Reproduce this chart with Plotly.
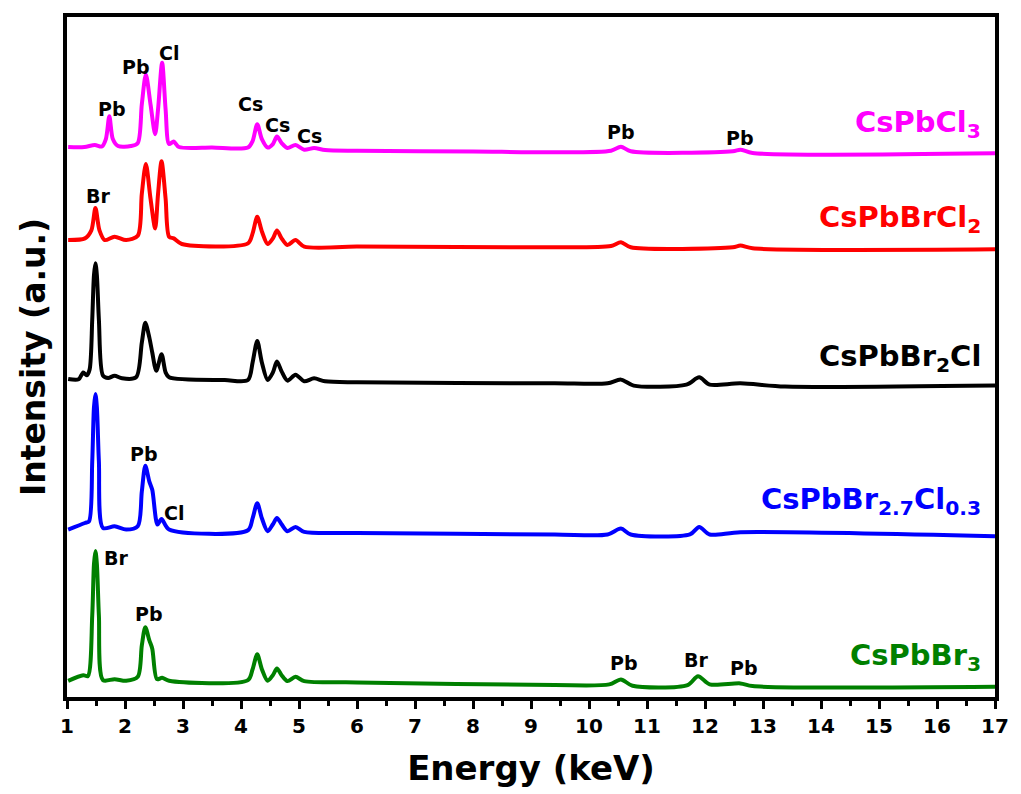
import plotly.graph_objects as go

# ---------------- data (energy in keV, stacked intensity in a.u.) ----------------
cl3_x = [1.02, 1.30, 1.48, 1.60, 1.67, 1.73, 1.79, 1.88, 2.10, 2.22, 2.29, 2.36, 2.44, 2.52, 2.57, 2.64, 2.70,
         2.76, 2.84, 2.93, 3.50, 4.12, 4.20, 4.28, 4.36, 4.46, 4.55, 4.62, 4.70, 4.80, 4.94, 5.09, 5.26, 5.45,
         6.00, 8.00, 9.41, 10.38, 10.55, 10.72, 12.48, 12.61, 12.82, 17.0]
cl3_y = [554, 554, 556, 554.5, 562, 585, 562, 555, 555, 558, 597, 627, 597, 567, 592, 639, 592,
         557, 559.5, 554, 553.5, 553.5, 560, 577, 562, 553.5, 557, 564.5, 558, 553, 556, 551.3, 553, 551,
         550.3, 549.5, 548.7, 550.3, 554.3, 549.7, 549.7, 551.3, 548, 547.7]

brcl2_x = [1.02, 1.31, 1.42, 1.49, 1.56, 1.65, 1.82, 2.02, 2.22, 2.29, 2.36, 2.44, 2.52, 2.57, 2.63, 2.70, 2.76,
           2.84, 2.98, 4.12, 4.20, 4.28, 4.36, 4.46, 4.55, 4.62, 4.70, 4.80, 4.94, 5.09, 6.00, 9.41, 10.38,
           10.55, 10.72, 12.48, 12.61, 12.82, 17.0]
brcl2_y = [460.3, 462, 470, 492.7, 470, 460.3, 463.7, 460.3, 464.7, 507, 537, 502, 472, 507, 539.7, 502, 463.7,
           462, 456.3, 457, 467, 483.7, 469, 456.3, 462, 470, 462, 455.3, 460.3, 453.7, 453.7, 453, 454.3,
           458, 453, 453, 454.7, 452, 451]

br2cl_x = [1.02, 1.20, 1.28, 1.34, 1.39, 1.435, 1.465, 1.49, 1.515, 1.55, 1.62, 1.71, 1.82, 1.95, 2.19, 2.29,
           2.35, 2.42, 2.47, 2.54, 2.63, 2.70, 2.76, 3.72, 4.12, 4.20, 4.28, 4.36, 4.46, 4.55, 4.62, 4.70, 4.80,
           4.94, 5.09, 5.26, 5.45, 6.00, 9.41, 10.32, 10.55, 10.77, 11.68, 11.90, 12.08, 12.61, 13.38, 17.0]
br2cl_y = [320.3, 320, 327, 324, 330, 380, 425, 437, 425, 380, 323.7, 321.3, 323.7, 321, 322, 357,
           377, 362, 347, 328.7, 345.3, 327, 322, 319.3, 319.3, 337, 358.7, 337, 319.3, 327, 338, 328, 318.7,
           324.7, 318, 321, 318, 317, 316, 316, 319.7, 313.7, 314.7, 322, 314.7, 316, 312.7, 313.7]

br27_x = [1.02, 1.31, 1.38, 1.435, 1.465, 1.49, 1.515, 1.55, 1.62, 1.82, 2.02, 2.22, 2.29, 2.35, 2.42, 2.47,
          2.56, 2.63, 2.76, 4.12, 4.20, 4.28, 4.36, 4.46, 4.55, 4.62, 4.70, 4.80, 4.94, 5.09, 6.00, 9.41, 10.32,
          10.55, 10.72, 11.74, 11.90, 12.08, 12.61, 17.0]
br27_y = [168.7, 175.3, 177, 237, 292, 305.3, 292, 237, 170.3, 172, 168.7, 172, 207, 233, 217, 208.7,
          173.7, 179.3, 168.7, 168, 180, 195.3, 180, 167, 174, 180.3, 174, 167, 171.3, 166.3, 165.3, 163.7, 163.7,
          169.7, 163.7, 163.7, 171.3, 163.7, 166, 162]

br3_x = [1.02, 1.28, 1.36, 1.435, 1.465, 1.49, 1.515, 1.55, 1.62, 1.82, 2.02, 2.22, 2.29, 2.35, 2.42, 2.47,
         2.55, 2.64, 2.76, 4.12, 4.20, 4.28, 4.36, 4.46, 4.55, 4.62, 4.70, 4.80, 4.94, 5.09, 6.00, 9.41, 10.35,
         10.55, 10.75, 11.70, 11.88, 12.08, 12.61, 12.82, 17.0]
br3_y = [16.3, 22, 21, 82, 134, 147, 134, 82, 17, 18, 16.3, 20.3, 52, 70.3, 57, 48.7,
         18, 19.3, 16.3, 17, 28, 43, 28, 16.3, 22, 28.7, 22, 16, 20.3, 16, 14.7, 12, 12.7,
         17.7, 11.3, 12, 21, 12.7, 13.7, 11, 10.3]

series_names = ["CsPbCl<sub>3</sub>", "CsPbBrCl<sub>2</sub>", "CsPbBr<sub>2</sub>Cl",
                "CsPbBr<sub>2.7</sub>Cl<sub>0.3</sub>", "CsPbBr<sub>3</sub>"]
series_x = [cl3_x, brcl2_x, br2cl_x, br27_x, br3_x]
series_y = [cl3_y, brcl2_y, br2cl_y, br27_y, br3_y]
series_colors = ["#FF00FF", "#FF0000", "#000000", "#0000FF", "#008000"]
label_y = [577, 482, 342, 197, 40]

# peak labels: (text, energy, y)
peak_labels = [
    ("Pb", 1.78, 592), ("Pb", 2.19, 635), ("Cl", 2.76, 649), ("Cs", 4.17, 597), ("Cs", 4.63, 576),
    ("Cs", 5.18, 565), ("Pb", 10.55, 569), ("Pb", 12.60, 563),
    ("Br", 1.53, 505),
    ("Pb", 2.33, 245), ("Cl", 2.84, 185),
    ("Br", 1.85, 140), ("Pb", 2.42, 84), ("Pb", 10.60, 34), ("Br", 11.85, 37), ("Pb", 12.68, 29),
]

x_ticks = list(range(1, 18))

FONT = "DejaVu Sans"

fig = go.Figure()
for name, xs, ys, c in zip(series_names, series_x, series_y, series_colors):
    fig.add_trace(go.Scatter(x=xs, y=ys, mode="lines", name=name,
                             line=dict(color=c, width=4, shape="spline", smoothing=0.8),
                             showlegend=False))

annotations = []
for txt, ex, ey in peak_labels:
    annotations.append(dict(x=ex, y=ey, text="<b>%s</b>" % txt, showarrow=False,
                            font=dict(family=FONT, size=19, color="black")))
for name, c, ly in zip(series_names, series_colors, label_y):
    annotations.append(dict(x=16.8, y=ly, text="<b>%s</b>" % name, showarrow=False, xanchor="right",
                            yanchor="middle", font=dict(family=FONT, size=29, color=c)))

fig.update_layout(
    width=1021, height=794,
    margin=dict(l=67, r=16, t=17, b=92),
    paper_bgcolor="white", plot_bgcolor="white",
    annotations=annotations,
    xaxis=dict(range=[1, 17], tickvals=x_ticks, ticktext=[str(t) for t in x_ticks],
               ticks="outside", ticklen=8, tickwidth=3, tickcolor="black",
               minor=dict(dtick=0.5, ticks="outside", ticklen=5, tickwidth=3, tickcolor="black"),
               showline=True, linewidth=4, linecolor="black", mirror=True, showgrid=False, zeroline=False,
               tickfont=dict(family=FONT, size=20, color="black", weight="bold"),
               title=dict(text="<b>Energy (keV)</b>", font=dict(family=FONT, size=34, color="black"),
                          standoff=20)),
    yaxis=dict(range=[0, 685], showticklabels=False, ticks="", showline=True, linewidth=4,
               linecolor="black", mirror=True, showgrid=False, zeroline=False,
               title=dict(text="<b>Intensity (a.u.)</b>", font=dict(family=FONT, size=33, color="black"),
                          standoff=8)),
)

fig.write_html("out.html")
